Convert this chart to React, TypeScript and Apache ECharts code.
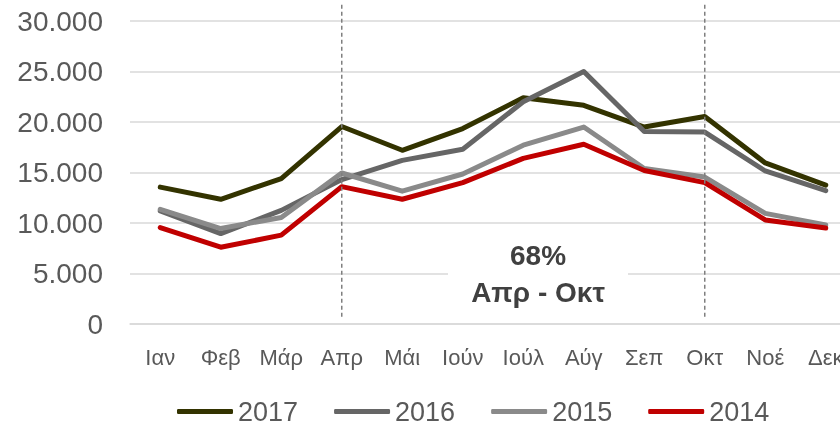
import React, { useEffect, useRef } from "react";
import * as echarts from "echarts";

const months = ["Ιαν", "Φεβ", "Μάρ", "Απρ", "Μάι", "Ιούν", "Ιούλ", "Αύγ", "Σεπ", "Οκτ", "Νοέ", "Δεκ"];
const yearNames = ["2017", "2016", "2015", "2014"];
const values2017 = [13550, 12350, 14400, 19550, 17200, 19350, 22400, 21650, 19500, 20550, 15950, 13750];
const values2016 = [11200, 8950, 11250, 14300, 16200, 17300, 22000, 25000, 19050, 19000, 15150, 13200];
const values2015 = [11350, 9450, 10550, 14950, 13150, 14850, 17700, 19500, 15400, 14550, 10950, 9800];
const values2014 = [9550, 7600, 8800, 13600, 12350, 14000, 16400, 17800, 15200, 14000, 10300, 9500];
const yTicks = { min: 0, max: 30000, interval: 5000 };
const markerMonths = ["Απρ", "Οκτ"];
const noteLines = ["68%", "Απρ - Οκτ"];

const colors = ["#333300", "#666666", "#8a8a8a", "#c00000"];
const sans = "'Liberation Sans', Arial, sans-serif";

function fmt(v: number): string {
  return String(v).replace(/\B(?=(\d{3})+(?!\d))/g, ".");
}

export default function App() {
  const ref = useRef<HTMLDivElement>(null);
  useEffect(() => {
    if (!ref.current) return;
    const chart = echarts.init(ref.current, null, { renderer: "svg" });
    const seriesData = [values2017, values2016, values2015, values2014];
    chart.setOption({
      animation: false,
      grid: { left: 130, top: 21, width: 726, height: 303, containLabel: false },
      legend: {
        left: 172,
        top: 393,
        itemWidth: 56,
        itemHeight: 5,
        itemGap: 36,
        icon: "roundRect",
        textStyle: { fontFamily: sans, fontSize: 27, color: "#595959" },
        data: yearNames,
      },
      xAxis: {
        type: "category",
        data: months,
        boundaryGap: true,
        axisLine: { lineStyle: { color: "#d9d9d9", width: 1.5 } },
        axisTick: { show: false },
        axisLabel: { fontFamily: sans, fontSize: 22, color: "#595959", margin: 22, interval: 0 },
      },
      yAxis: {
        type: "value",
        min: yTicks.min,
        max: yTicks.max,
        interval: yTicks.interval,
        axisLine: { show: false },
        axisTick: { show: false },
        splitLine: { lineStyle: { color: "#d9d9d9", width: 1.5 } },
        axisLabel: { fontFamily: sans, fontSize: 28, color: "#595959", margin: 27, formatter: (v: number) => fmt(v) },
      },
      series: yearNames.map((name, i) => ({
        name,
        type: "line",
        data: seriesData[i],
        symbol: "none",
        lineStyle: { color: colors[i], width: 5, cap: "round", join: "round" },
        itemStyle: { color: colors[i] },
      })),
    });
    const topY = chart.convertToPixel({ yAxisIndex: 0 }, 31600) as number;
    const botY = chart.convertToPixel({ yAxisIndex: 0 }, 500) as number;
    const lines = markerMonths.map((m) => {
      const x = chart.convertToPixel({ xAxisIndex: 0 }, m) as number;
      return {
        type: "line",
        shape: { x1: x, y1: topY, x2: x, y2: botY },
        style: { stroke: "#7f7f7f", lineWidth: 1.5, lineDash: [4, 3] },
        z: 10,
      };
    });
    chart.setOption({
      graphic: [
        ...lines,
        { type: "rect", shape: { x: 448, y: 236, width: 180, height: 68 }, style: { fill: "#ffffff" }, z: 5 },
        {
          type: "text",
          x: 538,
          y: 255,
          style: { text: noteLines[0], fontFamily: sans, fontSize: 28, fontWeight: "bold", fill: "#404040", align: "center", verticalAlign: "middle" },
          z: 11,
        },
        {
          type: "text",
          x: 538,
          y: 292,
          style: { text: noteLines[1], fontFamily: sans, fontSize: 28, fontWeight: "bold", fill: "#404040", align: "center", verticalAlign: "middle" },
          z: 11,
        },
      ],
    });
    return () => chart.dispose();
  }, []);
  return <div ref={ref} style={{ position: "fixed", left: 0, top: 0, width: 860, height: 427 }} />;
}
